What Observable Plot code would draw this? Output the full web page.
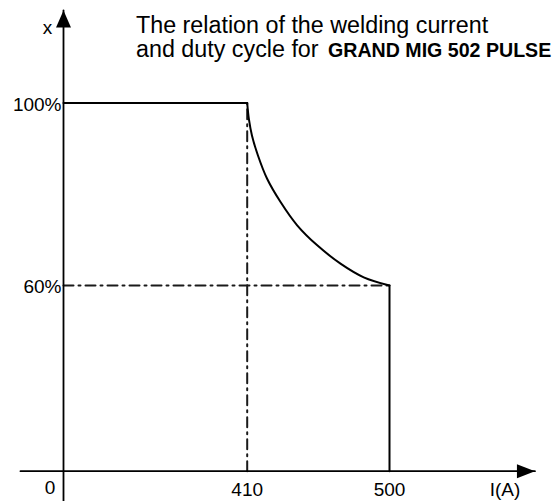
<!DOCTYPE html>
<html>
<head>
<meta charset="utf-8">
<script src="https://cdn.jsdelivr.net/npm/d3@7"></script>
<script src="https://cdn.jsdelivr.net/npm/@observablehq/plot@0.6"></script>
<style>
  html, body { margin: 0; padding: 0; background: #fff; }
  #chart svg { display: block; }
</style>
</head>
<body>
<div id="chart"></div>
<script>
// ---------- Data ----------
const xTickValues = [0, 410, 500];            // welding current I (A)
const xTickLabels = ["0", "410", "500"];
const yBreaks = [0, 60, 100];                 // duty cycle X (%)
const yTickValues = [60, 100];
const yTickLabels = ["60%", "100%"];

const plateauCurrent = [0, 410];
const plateauDuty = [100, 100];
const curveCurrent = [410, 411.1, 413.0, 416.8, 422.6, 431.1, 441.6, 454.3, 469.0, 483.7, 500];
const curveDuty    = [100, 96.4, 92.9, 88.5, 83.4, 78.3, 73.2, 68.8, 64.8, 61.8, 60];
const cutoffCurrent = [500, 500];
const cutoffDuty = [60, 0];

const guideVCurrent = [410, 410];
const guideVDuty = [0, 100];
const guideHCurrent = [0, 500];
const guideHDuty = [60, 60];

const xAxisSpan = [-96, 592];     // current values covered by the horizontal axis arrow
const yAxisSpan = [-10, 120.3];   // duty values covered by the vertical axis arrow

const titleLine1 = "The relation of the welding current";
const titleLine2 = "and duty cycle for ";
const titleModel = "GRAND MIG 502 PULSE";
const xAxisLabel = "I(A)";
const yAxisLabel = "x";

// ---------- Helpers ----------
const pts = (xs, ys) => xs.map((x, i) => ({x, y: ys[i]}));

const arrowRight = {draw(ctx) { ctx.moveTo(0, 0); ctx.lineTo(-18, -7); ctx.lineTo(-18, 7); ctx.closePath(); }};
const arrowUp = {draw(ctx) { ctx.moveTo(0, 0); ctx.lineTo(-7.5, 17); ctx.lineTo(7.5, 17); ctx.closePath(); }};

const font = "'Liberation Sans', Arial, Helvetica, sans-serif";
const dash = "10,5,2,5";
const tickSize = 19;

const chart = Plot.plot({
  width: 560,
  height: 501,
  marginTop: 0, marginRight: 0, marginBottom: 0, marginLeft: 0,
  x: {type: "linear", domain: xTickValues, range: [63, 246.7, 389], axis: null},
  y: {type: "linear", domain: yBreaks, range: [470.7, 285, 102.5], axis: null},
  style: {fontFamily: font, fontSize: "19px", color: "#000", background: "#fff", overflow: "visible"},
  marks: [
    // dash-dot guides
    Plot.line(pts(guideVCurrent, guideVDuty), {x: "x", y: "y", stroke: "#1a1a1a", strokeWidth: 2, strokeDasharray: dash}),
    Plot.line(pts(guideHCurrent, guideHDuty), {x: "x", y: "y", stroke: "#1a1a1a", strokeWidth: 2, strokeDasharray: dash}),
    // axes
    Plot.line(pts(xAxisSpan, [0, 0]), {x: "x", y: "y", stroke: "#000", strokeWidth: 1.8}),
    Plot.line(pts([0, 0], yAxisSpan), {x: "x", y: "y", stroke: "#000", strokeWidth: 1.8}),
    Plot.dot([{x: xAxisSpan[1], y: 0}], {x: "x", y: "y", symbol: arrowRight, fill: "#000", stroke: "none", r: 5}),
    Plot.dot([{x: 0, y: yAxisSpan[1]}], {x: "x", y: "y", symbol: arrowUp, fill: "#000", stroke: "none", r: 5}),
    // duty-cycle characteristic
    Plot.line(pts(plateauCurrent, plateauDuty), {x: "x", y: "y", stroke: "#000", strokeWidth: 2}),
    Plot.line(pts(curveCurrent, curveDuty), {x: "x", y: "y", stroke: "#000", strokeWidth: 2, curve: "catmull-rom"}),
    Plot.line(pts(cutoffCurrent, cutoffDuty), {x: "x", y: "y", stroke: "#000", strokeWidth: 2}),
    // tick labels
    Plot.text(yTickValues.map((v, i) => ({x: 0, y: v, t: yTickLabels[i]})),
      {x: "x", y: "y", text: "t", textAnchor: "end", dx: -2, dy: 1.5, fontSize: tickSize, fill: "#000"}),
    Plot.text([{x: xTickValues[0], y: 0, t: xTickLabels[0]}],
      {x: "x", y: "y", text: "t", dx: -13.5, dy: 16.5, fontSize: tickSize, fill: "#000"}),
    Plot.text(xTickValues.slice(1).map((v, i) => ({x: v, y: 0, t: xTickLabels[i + 1]})),
      {x: "x", y: "y", text: "t", dy: 19, fontSize: tickSize, fill: "#000"}),
    // axis labels
    Plot.text([{x: xAxisSpan[1], y: 0, t: xAxisLabel}],
      {x: "x", y: "y", text: "t", dx: -30, dy: 18.5, fontSize: tickSize, fill: "#000"}),
    Plot.text([{x: 0, y: yAxisSpan[1], t: yAxisLabel}],
      {x: "x", y: "y", text: "t", dx: -16, dy: 18, fontSize: tickSize, fill: "#000"})
  ]
});

// title (two lines, second line with bold model name)
const svg = d3.select(chart);
svg.append("text")
  .attr("x", 136).attr("y", 32.5).attr("text-anchor", "start")
  .attr("font-family", font).attr("font-size", 23.3).attr("fill", "#000")
  .text(titleLine1);
const t2 = svg.append("text")
  .attr("x", 136).attr("y", 56.5).attr("text-anchor", "start")
  .attr("font-family", font).attr("font-size", 23.3).attr("fill", "#000");
t2.append("tspan").text(titleLine2);
t2.append("tspan").attr("font-weight", "bold").attr("font-size", 19.6).attr("dx", 3).text(titleModel);

document.getElementById("chart").appendChild(chart);
</script>
</body>
</html>
